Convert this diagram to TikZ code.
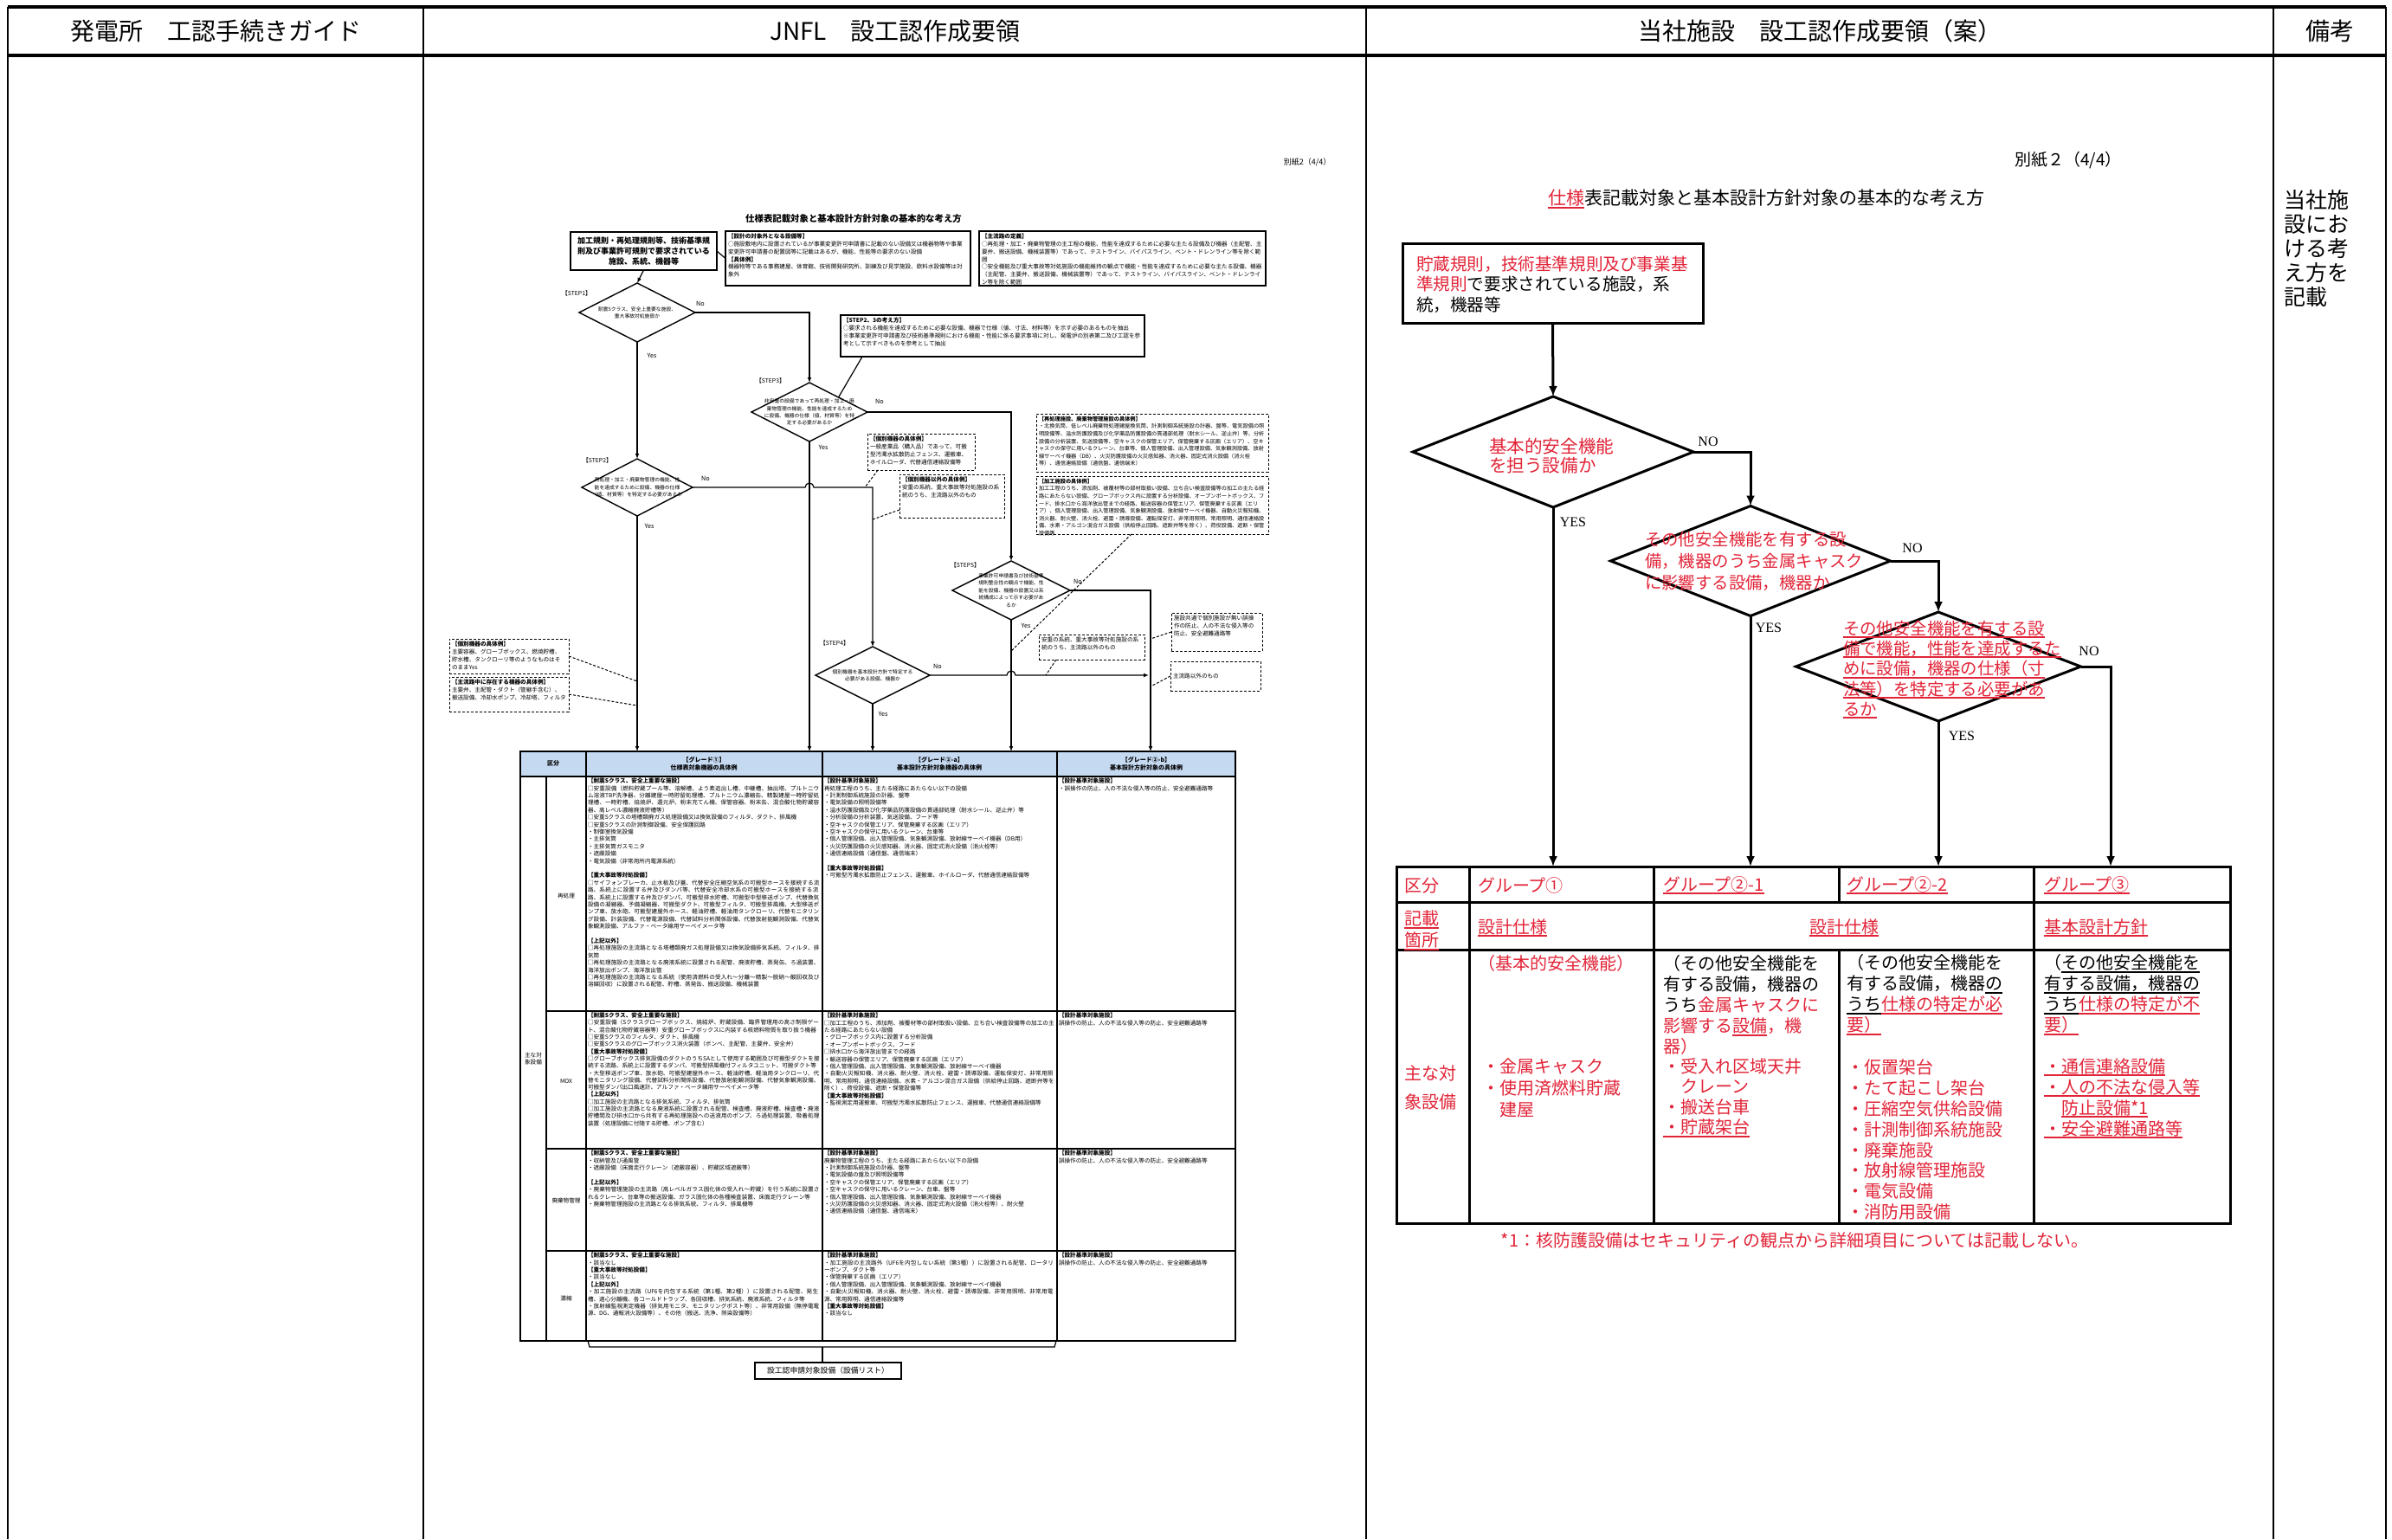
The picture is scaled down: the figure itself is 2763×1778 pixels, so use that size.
\documentclass[tikz,border=0pt]{standalone}
\usepackage{fontspec}
\setmainfont{Noto Sans CJK JP}
\newfontfamily\yesnofont{Liberation Serif}
\XeTeXlinebreaklocale "ja"
\XeTeXlinebreakskip=0pt plus 1pt
\usetikzlibrary{shapes.geometric,arrows.meta}
\definecolor{jred}{RGB}{226,36,56}
\definecolor{hblue}{RGB}{197,217,241}
\newsavebox\ulbx
\newcommand\myul[1]{\sbox\ulbx{#1}\rlap{\rule[-0.2em]{\wd\ulbx}{0.1em}}\usebox\ulbx}
\newcommand\jr[1]{\textcolor{jred}{#1}}
\newcommand\mtb[3]{\parbox[c][#2][t]{#1}{\raggedright #3}}
\begin{document}
\begin{tikzpicture}[x=0.5pt,y=-0.5pt,
  every node/.style={inner sep=0pt,outer sep=0pt},
  frm/.style={line width=1pt},
  frmh/.style={line width=1.6pt},
  hdr/.style={font=\fontsize{14}{16}\selectfont},
  rl/.style={line width=1.5pt},
  rarr/.style={line width=1.5pt,-{Latex[length=6pt,width=5pt]}},
  rdia/.style={diamond,draw,line width=1.5pt},
  rtxt/.style={anchor=west,align=left,font=\fontsize{10}{12}\selectfont},
  yn/.style={font=\yesnofont\fontsize{8}{9}\selectfont},
  ml/.style={line width=0.6pt},
  marr/.style={line width=0.6pt,-{Latex[length=3pt,width=2.4pt]}},
  mdsh/.style={line width=0.5pt,dash pattern=on 1.5pt off 1pt},
  mdia/.style={diamond,draw,line width=0.7pt},
  mdt/.style={align=center,font=\fontsize{2.9}{4.2}\selectfont},
  mbox/.style={draw,line width=0.6pt,anchor=north west,inner sep=1.5pt,font=\fontsize{3.3}{4.4}\selectfont},
  dbox/.style={mbox,line width=0.5pt,dash pattern=on 1.5pt off 1pt},
  stp/.style={font=\fontsize{3.4}{4}\selectfont},
  myn/.style={font=\fontsize{3.6}{4}\selectfont},
  mcell/.style={anchor=north west,align=left,font=\fontsize{3.3}{4.2}\selectfont},
  mhd/.style={align=center,font=\bfseries\fontsize{3.5}{4.6}\selectfont}
]
\useasboundingbox (0,0) rectangle (2763,1778);
\fill[white] (0,0) rectangle (2763,1778);

% ---------- outer frame ----------
\draw[frmh] (9,8) -- (2756,8);
\draw[frmh] (9,64) -- (2756,64);
\foreach \xx in {9,489,1578,2626,2756} \draw[frm] (\xx,8) -- (\xx,1778);
\node[hdr] (h1) at (249,36) {発電所　工認手続きガイド};
\node[hdr] (h2) at (1034,36) {JNFL　設工認作成要領};
\node[hdr] (h3) at (2102,36) {当社施設　設工認作成要領（案）};
\node[hdr] (h4) at (2691,36) {備考};
\node[anchor=west,align=left,font=\fontsize{12.5}{14.1}\selectfont] (rem) at (2638,287) {当社施\\設にお\\ける考\\え方を\\記載};

% ================= middle column (JNFL) =================
\node[font=\fontsize{4.5}{5}\selectfont] (mbz) at (1510,187) {別紙2（4/4）};
\node[font=\bfseries\fontsize{5.2}{6}\selectfont] (mtitle) at (986,253) {仕様表記載対象と基本設計方針対象の基本的な考え方};
\node[draw,line width=0.7pt,minimum width=84.5pt,minimum height=22pt,align=center,font=\bfseries\fontsize{4.5}{6}\selectfont] (mA) at (743.5,290) {加工規則・再処理規則等、技術基準規\\則及び事業許可規則で要求されている\\施設、系統、機器等};
\node[mbox] (mB) at (838,267) {\mtb{138.5pt}{28.5pt}{\textbf{【設計の対象外となる設備等】}\\○施設敷地内に設置されているが事業変更許可申請書に記載のない設備又は機器物等や事業変更許可申請書の配置図等に記載はあるが、機能、性能等の要求のない設備\\\textbf{【具体例】}\\機器物等である事務建屋、体育館、技術開発研究所、訓練及び見学施設、飲料水設備等は対象外}};
\node[mbox] (mC) at (1131,267) {\mtb{162.5pt}{28.5pt}{\textbf{【主流路の定義】}\\○再処理・加工・廃棄物管理の主工程の機能、性能を達成するために必要な主たる設備及び機器（主配管、主要弁、搬送設備、機械装置等）であって、テストライン、バイパスライン、ベント・ドレンライン等を除く範囲\\○安全機能及び重大事故等対処施設の機能維持の観点で機能・性能を達成するために必要な主たる設備、機器（主配管、主要弁、搬送設備、機械装置等）であって、テストライン、バイパスライン、ベント・ドレンライン等を除く範囲}};
\node[mbox] (mD) at (971,364) {\mtb{172.5pt}{21pt}{\textbf{【STEP2、3の考え方】}\\○要求される機能を達成するために必要な設備、機器で仕様（値、寸法、材料等）を示す必要のあるものを抽出\\※事業変更許可申請書及び技術基準規則における機能・性能に係る要求事項に対し、発電炉の別表第二及び工認を参考として示すべきものを参考として抽出}};
\node[dbox] (mE) at (1002,501) {\mtb{59pt}{18pt}{\textbf{【個別機器の具体例】}\\一般産業品（購入品）であって、可搬型汚濁水拡散防止フェンス、運搬車、ホイルローダ、代替通信連絡設備等}};
\node[dbox] (mF) at (1039,548) {\mtb{57.5pt}{22pt}{\textbf{【個別機器以外の具体例】}\\安重の系統、重大事故等対処施設の系統のうち、主流路以外のもの}};
\node[dbox,font=\fontsize{3.1}{4.3}\selectfont] (mG) at (1197,478) {\mtb{131pt}{30.5pt}{\textbf{【再処理施設、廃棄物管理施設の具体例】}\\・北換気筒、低レベル廃棄物処理建屋換気筒、計測制御系統施設の計器、盤等、電気設備の照明設備等、溢水防護設備及び化学薬品防護設備の貫通部処理（耐水シール、逆止弁）等、分析設備の分析装置、気送設備等、空キャスクの保管エリア、保管廃棄する区画（エリア）、空キャスクの保守に用いるクレーン、台車等、個人管理設備、出入管理設備、気象観測設備、放射線サーベイ機器（DB）、火災防護設備の火災感知器、消火器、固定式消火設備（消火栓等）、通信連絡設備（通信盤、通信端末）}};
\node[dbox,font=\fontsize{3.1}{4.3}\selectfont] (mH) at (1197,550) {\mtb{131pt}{30.5pt}{\textbf{【加工施設の具体例】}\\加工工程のうち、添加剤、被覆材等の部材取扱い設備、立ち合い検査設備等の加工の主たる経路にあたらない設備、グローブボックス内に設置する分析設備、オープンポートボックス、フード、排水口から海洋放出管までの経路、輸送容器の保管エリア、保管廃棄する区画（エリア）、個人管理設備、出入管理設備、気象観測設備、放射線サーベイ機器、自動火災報知機、消火器、耐火壁、消火栓、避雷・誘導設備、運転保安灯、非常用照明、常用照明、通信連絡設備、水素・アルゴン混合ガス設備（供給停止回路、遮断弁等を除く）、荷役設備、遮断・保管設備等}};
\node[dbox] (mI) at (519,738) {\mtb{66pt}{17pt}{\textbf{【個別機器の具体例】}\\主要容器、グローブボックス、燃焼貯槽、貯水槽、タンクローリ等のようなものはそのままYes}};
\node[dbox] (mJ) at (519,782) {\mtb{66pt}{17pt}{\textbf{【主流路中に存在する機器の具体例】}\\主要弁、主配管・ダクト（管継手含む）、搬送設備、冷却水ポンプ、冷却塔、フィルタ}};
\node[dbox] (mK) at (1200,733) {\mtb{58pt}{11.5pt}{安重の系統、重大事故等対処施設の系統のうち、主流路以外のもの}};
\node[dbox] (mL) at (1353,708) {\mtb{49.5pt}{19pt}{施設共通で個別施設が無い誤操作の防止、人の不法な侵入等の防止、安全避難通路等}};
\node[dbox] (mM) at (1352,764) {\parbox[c][14pt][c]{49pt}{主流路以外のもの}};

% diamonds
\node[mdia,minimum width=67pt,minimum height=34pt] (s1) at (736,361) {};
\node[mdia,minimum width=67pt,minimum height=34pt] (s3) at (935,476) {};
\node[mdia,minimum width=64pt,minimum height=33pt] (s2) at (736,563) {};
\node[mdia,minimum width=68pt,minimum height=34pt] (s5) at (1168,682) {};
\node[mdia,minimum width=66pt,minimum height=33pt] (s4) at (1008,780) {};
\node[mdt] (s1t) at (736,361) {耐震Sクラス、安全上重要な施設、\\重大事故対処施設か};
\node[mdt] (s3t) at (935,476) {非安重の設備であって再処理・加工・廃\\棄物管理の機能、性能を達成するため\\に設備、機器の仕様（値、材質等）を特\\定する必要があるか};
\node[mdt] (s2t) at (736,563) {再処理・加工・廃棄物管理の機能、性\\能を達成するために設備、機器の仕様\\（値、材質等）を特定する必要があるか};
\node[mdt] (s5t) at (1168,682) {事業許可申請書及び技術基準\\規則整合性の観点で機能、性\\能を設備、機器の設置又は系\\統構成によって示す必要があ\\るか};
\node[mdt] (s4t) at (1008,780) {個別機器を基本設計方針で特定する\\必要がある設備、機器か};
\node[stp] (st1) at (666,339) {【STEP1】};
\node[stp] (st2) at (690,532) {【STEP2】};
\node[stp] (st3) at (890,440) {【STEP3】};
\node[stp] (st4) at (964,743) {【STEP4】};
\node[stp] (st5) at (1115,653) {【STEP5】};
\node[myn] (n1) at (809,351) {No};
\node[myn] (y1) at (753,411) {Yes};
\node[myn] (n3) at (1016,464) {No};
\node[myn] (y3) at (951,517) {Yes};
\node[myn] (n2) at (815,553) {No};
\node[myn] (y2) at (750,608) {Yes};
\node[myn] (n5) at (1245,672) {No};
\node[myn] (y5) at (1185,723) {Yes};
\node[myn] (n4) at (1083,770) {No};
\node[myn] (y4) at (1020,825) {Yes};

\coordinate (m1) at (736,868);
\coordinate (m2) at (935,868);
\coordinate (m3) at (1008,868);
\coordinate (m4) at (1168,868);
\coordinate (m5) at (1329,868);
\coordinate (m6) at (1327,780);

\draw[marr] (mA.south) -- (s1.north);
\draw[ml] (mA.east) -- (mB.west);
\draw[ml] ([xshift=12.5pt]mD.south west) -- (s3.north east);
\draw[marr] (s1.east) -| (s3.north);
\draw[marr] (s1.south) -- (s2.north);
\draw[marr] (s3.east) -| (s5.north);
\draw[marr] (s3.south) -- (m2);
\draw[marr] (s2.east) -- (930,563) arc[start angle=180,end angle=0,radius=2.5pt] -- (1008,563) -- (s4.north);
\draw[marr] (s2.south) -- (m1);
\draw[marr] (s5.east) -| (m5);
\draw[marr] (s5.south) -- (m4);
\draw[marr] (s4.east) -- (1163,780) arc[start angle=180,end angle=0,radius=2.5pt] -- (m6);
\draw[marr] (s4.south) -- (m3);

\coordinate (cE) at (999,563);
\coordinate (cF) at (1008,600);
\coordinate (cH) at (1168,752);
\coordinate (cK) at (1208,780);
\coordinate (cL) at (1329,738);
\coordinate (cM) at (1329,793);
\coordinate (cI) at (736,787);
\coordinate (cJ) at (736,815);
\draw[mdsh] ([xshift=6pt]mE.south west) -- (cE);
\draw[mdsh] ([yshift=-8pt]mF.west) -- (cF);
\draw[mdsh] ([xshift=55pt]mH.south west) -- (cH);
\draw[mdsh] ([xshift=10pt]mK.south west) -- (cK);
\draw[mdsh] (mL.west) -- (cL);
\draw[mdsh] (mM.west) -- (cM);
\draw[mdsh] (mI.east) -- (cI);
\draw[mdsh] (mJ.east) -- (cJ);

% middle table
\fill[hblue] (601,868) rectangle (1427,897);
\draw[line width=0.8pt] (601,868) rectangle (1427,1549);
\draw[ml] (601,897) -- (1427,897);
\foreach \yy in {1168,1327,1445} \draw[ml] (631,\yy) -- (1427,\yy);
\draw[ml] (631,897) -- (631,1549);
\foreach \xx in {677,950,1221} \draw[ml] (\xx,868) -- (\xx,1549);
\node[mhd] (th0) at (639,882) {区分};
\node[mhd] (th1) at (813,882) {【グレード①】\\仕様表対象機器の具体例};
\node[mhd] (th2) at (1085,882) {【グレード②-a】\\基本設計方針対象機器の具体例};
\node[mhd] (th3) at (1324,882) {【グレード②-b】\\基本設計方針対象の具体例};
\node[mdt,font=\fontsize{3.3}{4.3}\selectfont] (tl0) at (616,1223) {主な対\\象設備};
\node[mdt,font=\fontsize{3.3}{4.3}\selectfont] (tl1) at (654,1035) {再処理};
\node[mdt,font=\fontsize{3.3}{4.3}\selectfont] (tl2) at (654,1249) {MOX};
\node[mdt,font=\fontsize{3.3}{4.3}\selectfont] (tl3) at (654,1387) {廃棄物管理};
\node[mdt,font=\fontsize{3.3}{4.3}\selectfont] (tl4) at (654,1500) {濃縮};

\node[mcell,text width=134pt] (c11) at (679,899) {\textbf{【耐震Sクラス、安全上重要な施設】}\\□安重設備（燃料貯蔵プール等、溶解槽、よう素追出し槽、中継槽、抽出塔、プルトニウム溶液TBP洗浄器、分離建屋一時貯留処理槽、プルトニウム濃縮缶、精製建屋一時貯留処理槽、一時貯槽、焙焼炉、還元炉、粉末充てん機、保管容器、粉末缶、混合酸化物貯蔵容器、高レベル濃縮廃液貯槽等）\\□安重Sクラスの塔槽類廃ガス処理設備又は換気設備のフィルタ、ダクト、排風機\\□安重Sクラスの計測制御設備、安全保護回路\\・制御室換気設備\\・主排気筒\\・主排気筒ガスモニタ\\・遮蔽設備\\・電気設備（非常用所内電源系統）\\[4.2pt]\textbf{【重大事故等対処設備】}\\□サイフォンブレーカ、止水板及び蓋、代替安全圧縮空気系の可搬型ホースを接続する流路、系統上に設置する弁及びダンパ等、代替安全冷却水系の可搬型ホースを接続する流路、系統上に設置する弁及びダンパ、可搬型排水貯槽、可搬型中型移送ポンプ、代替換気設備の凝縮器、予備凝縮器、可搬型ダクト、可搬型フィルタ、可搬型排風機、大型移送ポンプ車、放水砲、可搬型建屋外ホース、軽油貯槽、軽油用タンクローリ、代替モニタリング設備、計装設備、代替電源設備、代替試料分析関係設備、代替放射能観測設備、代替気象観測設備、アルファ・ベータ線用サーベイメータ等\\[4.2pt]\textbf{【上記以外】}\\□再処理施設の主流路となる塔槽類廃ガス処理設備又は換気設備排気系統、フィルタ、排気筒\\□再処理施設の主流路となる廃液系統に設置される配管、廃液貯槽、蒸発缶、ろ過装置、海洋放出ポンプ、海洋放出管\\□再処理施設の主流路となる系統（使用済燃料の受入れ～分離～精製～脱硝～酸回収及び溶媒回収）に設置される配管、貯槽、蒸発缶、搬送設備、機械装置};
\node[mcell,text width=133pt] (c12) at (952,899) {\textbf{【設計基準対象施設】}\\再処理工程のうち、主たる経路にあたらない以下の設備\\・計測制御系統施設の計器、盤等\\・電気設備の照明設備等\\・溢水防護設備及び化学薬品防護設備の貫通部処理（耐水シール、逆止弁）等\\・分析設備の分析装置、気送設備、フード等\\・空キャスクの保管エリア、保管廃棄する区画（エリア）\\・空キャスクの保守に用いるクレーン、台車等\\・個人管理設備、出入管理設備、気象観測設備、放射線サーベイ機器（DB用）\\・火災防護設備の火災感知器、消火器、固定式消火設備（消火栓等）\\・通信連絡設備（通信盤、通信端末）\\[4.2pt]\textbf{【重大事故等対処設備】}\\・可搬型汚濁水拡散防止フェンス、運搬車、ホイルローダ、代替通信連絡設備等};
\node[mcell,text width=101pt] (c13) at (1223,899) {\textbf{【設計基準対象施設】}\\・誤操作の防止、人の不法な侵入等の防止、安全避難通路等};
\node[mcell,text width=134pt,font=\fontsize{3.3}{4.15}\selectfont] (c21) at (679,1170) {\textbf{【耐震Sクラス、安全上重要な施設】}\\□安重設備（Sクラスグローブボックス、焼結炉、貯蔵設備、臨界管理用の高さ制限ゲート、混合酸化物貯蔵容器等）安重グローブボックスに内装する核燃料物質を取り扱う機器\\□安重Sクラスのフィルタ、ダクト、排風機\\□安重Sクラスのグローブボックス消火装置（ボンベ、主配管、主要弁、安全弁）\\\textbf{【重大事故等対処設備】}\\□グローブボックス排気設備のダクトのうちSAとして使用する範囲及び可搬型ダクトを接続する流路、系統上に設置するダンパ、可搬型排風機付フィルタユニット、可搬ダクト等\\・大型移送ポンプ車、放水砲、可搬型建屋外ホース、軽油貯槽、軽油用タンクローリ、代替モニタリング設備、代替試料分析関係設備、代替放射能観測設備、代替気象観測設備、可搬型ダンパ出口風速計、アルファ・ベータ線用サーベイメータ等\\\textbf{【上記以外】}\\□加工施設の主流路となる排気系統、フィルタ、排気筒\\□加工施設の主流路となる廃液系統に設置される配管、検査槽、廃液貯槽、検査槽・廃液貯槽間及び排水口から共有する再処理施設への送液用のポンプ、ろ過処理装置、吸着処理装置（処理設備に付随する貯槽、ポンプ含む）};
\node[mcell,text width=133pt] (c22) at (952,1170) {\textbf{【設計基準対象施設】}\\□加工工程のうち、添加剤、被覆材等の部材取扱い設備、立ち合い検査設備等の加工の主たる経路にあたらない設備\\・グローブボックス内に設置する分析設備\\・オープンポートボックス、フード\\□排水口から海洋放出管までの経路\\・輸送容器の保管エリア、保管廃棄する区画（エリア）\\・個人管理設備、出入管理設備、気象観測設備、放射線サーベイ機器\\・自動火災報知機、消火器、耐火壁、消火栓、避雷・誘導設備、運転保安灯、非常用照明、常用照明、通信連絡設備、水素・アルゴン混合ガス設備（供給停止回路、遮断弁等を除く）、荷役設備、遮断・保管設備等\\\textbf{【重大事故等対処設備】}\\・監視測定用運搬車、可搬型汚濁水拡散防止フェンス、運搬車、代替通信連絡設備等};
\node[mcell,text width=101pt] (c23) at (1223,1170) {\textbf{【設計基準対象施設】}\\誤操作の防止、人の不法な侵入等の防止、安全避難通路等};
\node[mcell,text width=134pt] (c31) at (679,1329) {\textbf{【耐震Sクラス、安全上重要な施設】}\\・収納管及び通風管\\・遮蔽設備（床面走行クレーン（遮蔽容器）、貯蔵区域遮蔽等）\\[4.2pt]\textbf{【上記以外】}\\・廃棄物管理施設の主流路（高レベルガラス固化体の受入れ～貯蔵）を行う系統に設置されるクレーン、台車等の搬送設備、ガラス固化体の各種検査装置、床面走行クレーン等\\・廃棄物管理施設の主流路となる排気系統、フィルタ、排風機等};
\node[mcell,text width=133pt] (c32) at (952,1329) {\textbf{【設計基準対象施設】}\\廃棄物管理工程のうち、主たる経路にあたらない以下の設備\\・計測制御系統施設の計器、盤等\\・電気設備の盤及び照明設備等\\・空キャスクの保管エリア、保管廃棄する区画（エリア）\\・空キャスクの保守に用いるクレーン、台車、盤等\\・個人管理設備、出入管理設備、気象観測設備、放射線サーベイ機器\\・火災防護設備の火災感知器、消火器、固定式消火設備（消火栓等）、耐火壁\\・通信連絡設備（通信盤、通信端末）};
\node[mcell,text width=101pt] (c33) at (1223,1329) {\textbf{【設計基準対象施設】}\\誤操作の防止、人の不法な侵入等の防止、安全避難通路等};
\node[mcell,text width=134pt] (c41) at (679,1447) {\textbf{【耐震Sクラス、安全上重要な施設】}\\・該当なし\\\textbf{【重大事故等対処設備】}\\・該当なし\\\textbf{【上記以外】}\\・加工施設の主流路（UF6を内包する系統（第1種、第2種））に設置される配管、発生槽、遠心分離機、各コールドトラップ、各回収槽、排気系統、廃液系統、フィルタ等\\・放射線監視測定機器（排気用モニタ、モニタリングポスト等）、非常用設備（無停電電源、DG、通報消火設備等）、その他（搬送、洗浄、除染設備等）};
\node[mcell,text width=133pt] (c42) at (952,1447) {\textbf{【設計基準対象施設】}\\・加工施設の主流路外（UF6を内包しない系統（第3種））に設置される配管、ロータリーポンプ、ダクト等\\・保管廃棄する区画（エリア）\\・個人管理設備、出入管理設備、気象観測設備、放射線サーベイ機器\\・自動火災報知機、消火器、耐火壁、消火栓、避雷・誘導設備、非常用照明、非常用電源、常用照明、通信連絡設備等\\\textbf{【重大事故等対処設備】}\\・該当なし};
\node[mcell,text width=101pt] (c43) at (1223,1447) {\textbf{【設計基準対象施設】}\\誤操作の防止、人の不法な侵入等の防止、安全避難通路等};

% brace and list box
\draw[ml] (679,1549) -- (681,1556) -- (1218,1556) -- (1220,1549);
\coordinate (brc) at (950,1556);
\node[draw,line width=0.6pt,minimum width=84.5pt,minimum height=9.5pt,font=\fontsize{4.4}{5}\selectfont] (mlist) at (956.5,1583.5) {設工認申請対象設備（設備リスト）};
\draw[ml] (brc) -- (mlist.north -| brc);

% ================= right column (当社施設) =================
\node[font=\fontsize{9.5}{11}\selectfont] (rbz) at (2389,185) {別紙２（4/4）};
\node[font=\fontsize{10.5}{12}\selectfont] (rtitle) at (2040,230) {\jr{\myul{仕様}}表記載対象と基本設計方針対象の基本的な考え方};

\node[draw,line width=1.5pt,minimum width=173.5pt,minimum height=46pt] (b1) at (1793.5,327) {};
\node[rtxt,font=\fontsize{9.8}{11.75}\selectfont] (b1t) at (1636,328.5) {\jr{貯蔵規則，技術基準規則及び事業基}\\\jr{準規則}で要求されている施設，系\\統，機器等};

\node[rdia,minimum width=162pt,minimum height=64pt] (d1) at (1794,522) {};
\node[rdia,minimum width=161.5pt,minimum height=63.5pt] (d2) at (2022,648) {};
\node[rdia,minimum width=164.5pt,minimum height=63pt] (d3) at (2239,770) {};
\node[rtxt,text=jred,font=\fontsize{10.3}{11}\selectfont] (d1t) at (1720,527) {基本的安全機能\\を担う設備か};
\node[rtxt,text=jred,font=\fontsize{9.7}{12.5}\selectfont] (d2t) at (1900,648) {その他安全機能を有する設\\備，機器のうち金属キャスク\\に影響する設備，機器か};
\node[rtxt,text=jred,font=\fontsize{9.7}{11.65}\selectfont] (d3t) at (2129,773.5) {\myul{その他安全機能を有する設}\\\myul{備で機能，性能を達成するた}\\\myul{めに設備，機器の仕様（寸}\\\myul{法等）を特定する必要があ}\\\myul{るか}};

\node[yn] (rno1) at (1973,510) {NO};
\node[yn] (rno2) at (2209,633) {NO};
\node[yn] (rno3) at (2413,752) {NO};
\node[yn] (ryes1) at (1817,603) {YES};
\node[yn] (ryes2) at (2043,725) {YES};
\node[yn] (ryes3) at (2266,850) {YES};

\coordinate (t1) at (1794,1001);
\coordinate (t2) at (2022,1001);
\coordinate (t3) at (2239,1001);
\coordinate (t4) at (2438,1001);
\draw[rarr] (b1.south) -- (d1.north);
\draw[rarr] (d1.east) -| (d2.north);
\draw[rarr] (d1.south) -- (t1);
\draw[rarr] (d2.east) -| (d3.north);
\draw[rarr] (d2.south) -- (t2);
\draw[rarr] (d3.south) -- (t3);
\draw[rarr] (d3.east) -| (t4);

% right table
\draw[rl] (1613,1001) rectangle (2576,1413);
\draw[rl] (1613,1042) -- (2576,1042);
\draw[rl] (1613,1097) -- (2576,1097);
\foreach \xx in {1697,1910,2349} \draw[rl] (\xx,1001) -- (\xx,1413);
\draw[rl] (2124,1001) -- (2124,1042);
\draw[rl] (2124,1097) -- (2124,1413);

\node[rtxt,text=jred] (r1a) at (1622,1023) {区分};
\node[rtxt,text=jred] (r1b) at (1707,1023) {グループ①};
\node[rtxt,text=jred] (r1c) at (1921,1023) {\myul{グループ②-1}};
\node[rtxt,text=jred] (r1d) at (2133,1023) {\myul{グループ②-2}};
\node[rtxt,text=jred] (r1e) at (2361,1023) {\myul{グループ③}};
\node[rtxt,text=jred,font=\fontsize{10}{12.5}\selectfont] (r2a) at (1622,1075) {\myul{記載}\\\myul{箇所}};
\node[rtxt,text=jred] (r2b) at (1707,1072) {\myul{設計仕様}};
\node[text=jred,font=\fontsize{10}{12}\selectfont] (r2c) at (2130,1072) {\myul{設計仕様}};
\node[rtxt,text=jred] (r2d) at (2361,1072) {\myul{基本設計方針}};
\node[rtxt,text=jred,font=\fontsize{10}{16.5}\selectfont] (r3a) at (1622,1256) {主な対\\象設備};

\node[rtxt,text=jred] (g1a) at (1707,1113) {（基本的安全機能）};
\node[rtxt,text=jred,font=\fontsize{10}{12.5}\selectfont] (g1b) at (1712,1257) {・金属キャスク\\・使用済燃料貯蔵\\　建屋};

\node[rtxt] (g21a) at (1921,1161) {（その他安全機能を\\有する設備，機器の\\うち\jr{金属キャスクに}\\\jr{影響する\myul{設備}，機}\\\jr{器）}};
\node[rtxt,text=jred,font=\fontsize{10}{11.7}\selectfont] (g21b) at (1921,1268) {・受入れ区域天井\\　クレーン\\・搬送台車\\\myul{・貯蔵架台}};

\node[rtxt] (g22a) at (2133,1149) {（その他安全機能を\\有する設備，機器\myul{の}\\\myul{うち}\jr{\myul{仕様の特定が必}}\\\jr{\myul{要）}}};
\node[rtxt,text=jred,font=\fontsize{10}{11.95}\selectfont] (g22b) at (2133,1316.5) {・仮置架台\\・たて起こし架台\\・圧縮空気供給設備\\・計測制御系統施設\\・廃棄施設\\・放射線管理施設\\・電気設備\\・消防用設備};

\node[rtxt] (g3a) at (2361,1149) {（\myul{その他安全機能を}\\\myul{有する設備，機器の}\\\myul{うち}\jr{\myul{仕様の特定が不}}\\\jr{\myul{要）}}};
\node[rtxt,text=jred] (g3b) at (2361,1269) {\myul{・通信連絡設備}\\\myul{・人の不法な侵入等}\\　\myul{防止設備*1}\\\myul{・安全避難通路等}};

\node[text=jred,font=\fontsize{10}{12}\selectfont] (fn) at (2073,1433) {*1：核防護設備はセキュリティの観点から詳細項目については記載しない。};
\end{tikzpicture}
\end{document}
